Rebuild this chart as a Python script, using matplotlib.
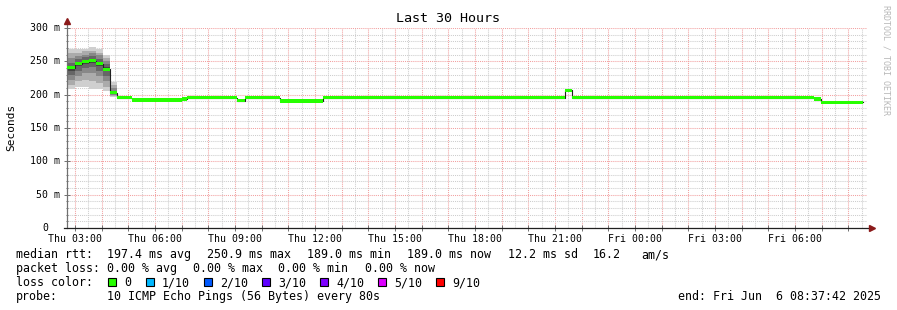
import matplotlib
matplotlib.use('Agg')
import matplotlib.pyplot as plt
import matplotlib.transforms as mtrans
from matplotlib.patches import Rectangle
import numpy as np

# median rtt steps (hours since Thu 00:00) and values in ms
step_hours = [2.70, 3.00, 3.26, 3.53, 3.79, 4.05, 4.31, 4.58, 5.14, 7.01, 7.20,
              9.08, 9.38, 10.69, 12.30, 21.36, 21.64, 30.71, 30.97, 32.55]
median_ms = [240, 246, 249, 251, 246, 238, 203, 195, 192, 193.5, 195,
             191, 195, 190.5, 195, 206.5, 195, 193.5, 189]

# the 10 sorted pings for the steps that show smoke
smoke_hours = [2.70, 3.00, 3.26, 3.53, 3.79, 4.05, 4.31, 4.58]
smoke_pings = [
    [208, 215, 222, 230, 236, 243, 248, 255, 262, 268],
    [211, 220, 228, 236, 243, 249, 253, 258, 263, 268],
    [211, 222, 232, 240, 246, 252, 256, 260, 265, 269],
    [208, 220, 233, 242, 248, 254, 258, 262, 266, 271],
    [208, 218, 228, 236, 243, 249, 254, 259, 263, 268],
    [205, 212, 220, 228, 235, 241, 246, 250, 255, 260],
    [196, 198, 199, 201, 202, 204, 206, 210, 214, 219],
]

x_label_hours = [3, 6, 9, 12, 15, 18, 21, 24, 27, 30]
x_labels = ['Thu 03:00', 'Thu 06:00', 'Thu 09:00', 'Thu 12:00', 'Thu 15:00',
            'Thu 18:00', 'Thu 21:00', 'Fri 00:00', 'Fri 03:00', 'Fri 06:00']
y_ticks = [0, 50, 100, 150, 200, 250, 300]
y_labels = ['0', '50 m', '100 m', '150 m', '200 m', '250 m', '300 m']

rtt_stats = ['197.4 ms avg', '250.9 ms max', '189.0 ms min', '189.0 ms now',
             '12.2 ms sd', '16.2', 'am/s']
loss_stats = ['0.00 % avg', '0.00 % max', '0.00 % min', '0.00 % now']
loss_names = ['0', '1/10', '2/10', '3/10', '4/10', '5/10', '9/10']
loss_colors = ['#26ff00', '#00b8ff', '#0059ff', '#5e00ff', '#7e00ff', '#dd00ff', '#ff0000']
smoke_grays = ['#cfcfcf', '#ababab', '#888888', '#666666', '#444444']

W, H = 897, 310
mono = 'DejaVu Sans Mono'
fig = plt.figure(figsize=(W / 100, H / 100), dpi=100)
fig.patch.set_facecolor('white')
ax = fig.add_axes([67 / W, 1 - 228 / H, 800 / W, 200 / H])

ax.set_xlim(2.7, 32.7)
ax.set_ylim(0, 300)

# grid: pink every hour / 50 ms, grey every 30 min / 10 ms
major_hours = np.arange(3, 33, 1)
ax.set_xticks(major_hours)
ax.set_xticklabels([x_labels[x_label_hours.index(h)] if h in x_label_hours else ''
                    for h in major_hours], family=mono, fontsize=7.1)
ax.set_xticks(np.arange(3.5, 33, 1), minor=True)
ax.set_yticks(y_ticks)
ax.set_yticklabels([])
ax.set_yticks(np.arange(0, 301, 10), minor=True)
ax.grid(which='major', color='#f2a0a0', linestyle=(0, (1, 1)), linewidth=0.75)
ax.grid(which='minor', color='#cdcdcd', linestyle=(0, (1, 1)), linewidth=0.75)
ax.set_axisbelow(True)
ax.tick_params(which='major', direction='inout', length=4, width=0.7, color='#707070', pad=2)
ax.tick_params(axis='x', which='minor', length=0)
ax.tick_params(axis='y', which='minor', direction='inout', length=2, width=0.7, color='#707070')
for s in ax.spines.values():
    s.set_visible(False)

lab_tr = mtrans.blended_transform_factory(fig.transFigure, ax.transData)
for v, lab in zip(y_ticks, y_labels):
    right = 60 if lab != '0' else 48
    ax.text(right / W, v, lab, transform=lab_tr, ha='right', va='center',
            family=mono, fontsize=7.1)

# smoke
for row_i, pings in enumerate(smoke_pings):
    h0, h1 = smoke_hours[row_i], smoke_hours[row_i + 1]
    for k in range(5):
        ax.fill_between([h0, h1], pings[k], pings[9 - k], color=smoke_grays[k],
                        linewidth=0, zorder=2)

# median: thin dark line plus thick green band
hx = step_hours
my = median_ms + [median_ms[-1]]
ax.step(hx, my, where='post', color='#202020', linewidth=0.8, zorder=3)
ax.fill_between(hx, np.array(my) - 2.25, np.array(my) + 2.25, step='post',
                color=loss_colors[0], linewidth=0, zorder=4)

# axes with arrows
ax.plot([0, 0], [0, 1.03], transform=ax.transAxes, color='#707070', lw=0.9, clip_on=False)
ax.plot([-0.004, 1.004], [0, 0], transform=ax.transAxes, color='#202020', lw=0.9, clip_on=False)
ax.plot(0, 1.035, marker='^', color='#8b1a1a', ms=4, transform=ax.transAxes, clip_on=False)
ax.plot(1.006, 0, marker='>', color='#8b1a1a', ms=4, transform=ax.transAxes, clip_on=False)


def put(x, y, s, **kw):
    kw.setdefault('fontsize', 8.4)
    kw.setdefault('ha', 'left')
    kw.setdefault('va', 'baseline')
    fig.text(x / W, 1 - y / H, s, family=mono, **kw)


put(448, 19, 'Last 30 Hours', fontsize=9.6, ha='center', va='center')
put(11, 127, 'Seconds', fontsize=8, ha='center', va='center', rotation=90)
put(886, 60, 'RRDTOOL / TOBI OETIKER', fontsize=6, ha='center', va='center',
    rotation=270, color='#b8b8b8')

# legend rows, y given as text baseline
put(16, 258, 'median rtt:')
for x, s in zip([107, 207, 307, 407, 508, 593, 641], rtt_stats):
    put(x, 258, s)
put(16, 272, 'packet loss:')
for x, s in zip([107, 193, 278, 365], loss_stats):
    put(x, 272, s)
put(16, 286, 'loss color:')
for x, s, c in zip([108, 146, 204, 262, 320, 378, 436], loss_names, loss_colors):
    fig.add_artist(Rectangle((x / W, 1 - 286 / H), 8 / W, 8 / H, transform=fig.transFigure,
                             facecolor=c, edgecolor='black', linewidth=0.8))
    put(x + 16, 286, s)
put(16, 300, 'probe:')
put(107, 300, '10 ICMP Echo Pings (56 Bytes) every 80s')
put(881, 300, 'end: Fri Jun  6 08:37:42 2025', ha='right')

plt.savefig('out.png', dpi=100)
